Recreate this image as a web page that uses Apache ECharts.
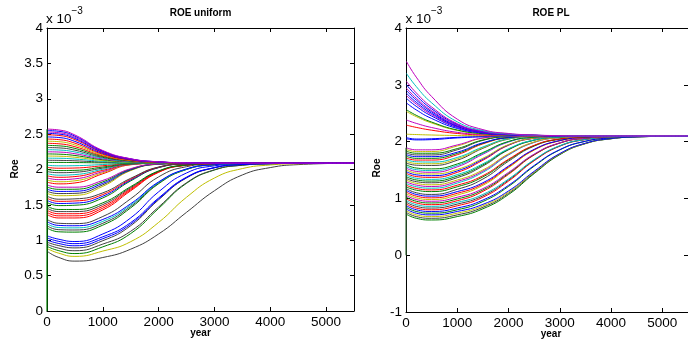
<!DOCTYPE html>
<html><head><meta charset="utf-8">
<script src="https://cdn.jsdelivr.net/npm/echarts@6/dist/echarts.min.js"></script>
<style>html,body{margin:0;padding:0;background:#fff}#c{width:688px;height:343px}</style>
</head><body><div id="c"></div><script>
// sample years (x values) shared by every curve
const YEARS = [10, 200, 500, 1000, 1500, 2000, 2500, 3000, 3500, 4000, 4500, 5500];
const X_TICKS = [0, 1000, 2000, 3000, 4000, 5000];
const UNI_Y_TICKS = [0, 0.5, 1, 1.5, 2, 2.5, 3, 3.5, 4];
const PL_Y_TICKS = [-1, 0, 1, 2, 3, 4];
// value (x 10^-3) at year 0 before the jump
const JUMP_LOW = 0;

// ---- ROE uniform : curves starting above the equilibrium ----
const UNI_HIGH = [
  [2.10, 2.10, 2.098, 2.094, 2.091, 2.09, 2.09, 2.09, 2.09, 2.09, 2.09, 2.09],
  [2.13, 2.129, 2.123, 2.105, 2.095, 2.092, 2.09, 2.09, 2.09, 2.09, 2.09, 2.09],
  [2.16, 2.159, 2.148, 2.116, 2.099, 2.093, 2.091, 2.09, 2.09, 2.09, 2.09, 2.09],
  [2.19, 2.188, 2.173, 2.127, 2.103, 2.094, 2.091, 2.09, 2.09, 2.09, 2.09, 2.09],
  [2.22, 2.217, 2.198, 2.138, 2.107, 2.095, 2.091, 2.09, 2.09, 2.09, 2.09, 2.09],
  [2.25, 2.247, 2.223, 2.149, 2.111, 2.096, 2.092, 2.09, 2.09, 2.09, 2.09, 2.09],
  [2.28, 2.276, 2.248, 2.16, 2.115, 2.098, 2.092, 2.09, 2.09, 2.09, 2.09, 2.09],
  [2.31, 2.306, 2.273, 2.171, 2.119, 2.099, 2.092, 2.09, 2.09, 2.09, 2.09, 2.09],
  [2.34, 2.335, 2.298, 2.183, 2.123, 2.10, 2.093, 2.09, 2.09, 2.09, 2.09, 2.09],
  [2.37, 2.364, 2.322, 2.194, 2.126, 2.101, 2.093, 2.09, 2.09, 2.09, 2.09, 2.09],
  [2.40, 2.394, 2.347, 2.205, 2.13, 2.102, 2.093, 2.09, 2.09, 2.09, 2.09, 2.09],
  [2.43, 2.423, 2.372, 2.216, 2.134, 2.104, 2.093, 2.09, 2.09, 2.09, 2.09, 2.09],
  [2.46, 2.453, 2.397, 2.227, 2.138, 2.105, 2.094, 2.09, 2.09, 2.09, 2.09, 2.09],
  [2.49, 2.482, 2.422, 2.238, 2.142, 2.106, 2.094, 2.09, 2.09, 2.09, 2.09, 2.09],
  [2.51, 2.502, 2.439, 2.245, 2.145, 2.107, 2.094, 2.09, 2.09, 2.09, 2.09, 2.09],
  [2.53, 2.521, 2.455, 2.253, 2.147, 2.108, 2.094, 2.09, 2.09, 2.09, 2.09, 2.09],
  [2.55, 2.541, 2.472, 2.26, 2.15, 2.108, 2.095, 2.09, 2.09, 2.09, 2.09, 2.09],
  [2.57, 2.56, 2.488, 2.268, 2.152, 2.109, 2.095, 2.09, 2.09, 2.09, 2.09, 2.09]
];
// ---- ROE uniform : curves starting below the equilibrium ----
const UNI_LOW = [
  [0.84, 0.76, 0.705, 0.756, 0.874, 1.089, 1.395, 1.70, 1.923, 2.027, 2.069, 2.09],
  [0.88, 0.82, 0.772, 0.847, 0.98, 1.252, 1.608, 1.88, 2.013, 2.064, 2.081, 2.09],
  [0.91, 0.855, 0.812, 0.907, 1.095, 1.45, 1.805, 1.993, 2.061, 2.081, 2.087, 2.09],
  [0.94, 0.89, 0.852, 0.946, 1.127, 1.47, 1.813, 1.996, 2.061, 2.081, 2.087, 2.09],
  [0.97, 0.926, 0.892, 0.994, 1.206, 1.572, 1.881, 2.024, 2.071, 2.084, 2.089, 2.09],
  [1.00, 0.956, 0.922, 1.022, 1.228, 1.585, 1.886, 2.026, 2.071, 2.084, 2.089, 2.09],
  [1.03, 0.986, 0.952, 1.049, 1.25, 1.598, 1.892, 2.027, 2.072, 2.084, 2.089, 2.09],
  [1.06, 1.016, 0.982, 1.089, 1.316, 1.685, 1.951, 2.052, 2.08, 2.088, 2.09, 2.09],
  [1.17, 1.12, 1.115, 1.214, 1.458, 1.799, 2.0, 2.067, 2.085, 2.09, 2.09, 2.09],
  [1.20, 1.15, 1.145, 1.24, 1.478, 1.808, 2.003, 2.068, 2.085, 2.09, 2.09, 2.09],
  [1.23, 1.18, 1.175, 1.267, 1.497, 1.817, 2.005, 2.069, 2.085, 2.09, 2.09, 2.09],
  [1.26, 1.21, 1.205, 1.294, 1.516, 1.825, 2.008, 2.069, 2.086, 2.09, 2.09, 2.09],
  [1.29, 1.24, 1.235, 1.336, 1.587, 1.896, 2.04, 2.08, 2.089, 2.09, 2.09, 2.09],
  [1.36, 1.315, 1.315, 1.429, 1.699, 1.96, 2.06, 2.084, 2.089, 2.09, 2.09, 2.09],
  [1.39, 1.345, 1.345, 1.454, 1.714, 1.965, 2.061, 2.085, 2.09, 2.09, 2.09, 2.09],
  [1.42, 1.375, 1.375, 1.479, 1.729, 1.97, 2.062, 2.085, 2.09, 2.09, 2.09, 2.09],
  [1.45, 1.405, 1.405, 1.504, 1.744, 1.975, 2.063, 2.085, 2.09, 2.09, 2.09, 2.09],
  [1.48, 1.435, 1.435, 1.529, 1.758, 1.98, 2.064, 2.085, 2.09, 2.09, 2.09, 2.09],
  [1.53, 1.49, 1.495, 1.598, 1.839, 2.026, 2.078, 2.088, 2.09, 2.09, 2.09, 2.09],
  [1.56, 1.52, 1.525, 1.622, 1.851, 2.029, 2.079, 2.088, 2.09, 2.09, 2.09, 2.09],
  [1.59, 1.55, 1.555, 1.646, 1.863, 2.032, 2.08, 2.088, 2.09, 2.09, 2.09, 2.09],
  [1.62, 1.58, 1.585, 1.67, 1.876, 2.035, 2.08, 2.088, 2.09, 2.09, 2.09, 2.09],
  [1.66, 1.63, 1.634, 1.762, 1.985, 2.074, 2.088, 2.09, 2.09, 2.09, 2.09, 2.09],
  [1.69, 1.66, 1.663, 1.783, 1.992, 2.075, 2.088, 2.09, 2.09, 2.09, 2.09, 2.09],
  [1.72, 1.69, 1.692, 1.804, 1.999, 2.076, 2.088, 2.09, 2.09, 2.09, 2.09, 2.09],
  [1.75, 1.72, 1.721, 1.825, 2.005, 2.077, 2.088, 2.09, 2.09, 2.09, 2.09, 2.09],
  [1.78, 1.75, 1.75, 1.846, 2.012, 2.078, 2.089, 2.09, 2.09, 2.09, 2.09, 2.09],
  [1.82, 1.797, 1.81, 1.94, 2.067, 2.088, 2.09, 2.09, 2.09, 2.09, 2.09, 2.09],
  [1.85, 1.827, 1.84, 1.955, 2.07, 2.088, 2.09, 2.09, 2.09, 2.09, 2.09, 2.09],
  [1.88, 1.857, 1.868, 1.97, 2.072, 2.088, 2.09, 2.09, 2.09, 2.09, 2.09, 2.09],
  [1.91, 1.89, 1.90, 1.988, 2.074, 2.089, 2.09, 2.09, 2.09, 2.09, 2.09, 2.09],
  [1.94, 1.92, 1.928, 2.003, 2.077, 2.089, 2.09, 2.09, 2.09, 2.09, 2.09, 2.09],
  [1.97, 1.955, 1.961, 2.02, 2.079, 2.089, 2.09, 2.09, 2.09, 2.09, 2.09, 2.09],
  [2.00, 1.985, 1.988, 2.035, 2.082, 2.09, 2.09, 2.09, 2.09, 2.09, 2.09, 2.09],
  [2.03, 2.018, 2.021, 2.053, 2.084, 2.09, 2.09, 2.09, 2.09, 2.09, 2.09, 2.09],
  [2.06, 2.052, 2.054, 2.07, 2.087, 2.09, 2.09, 2.09, 2.09, 2.09, 2.09, 2.09]
];
// ---- ROE PL : curves starting above the equilibrium ----
const PL_HIGH = [
  [2.05, 2.03, 2.035, 2.065, 2.085, 2.095, 2.10, 2.10, 2.10, 2.10, 2.10, 2.10],
  [2.07, 2.045, 2.05, 2.075, 2.09, 2.097, 2.10, 2.10, 2.10, 2.10, 2.10, 2.10],
  [2.13, 2.124, 2.116, 2.107, 2.103, 2.101, 2.10, 2.10, 2.10, 2.10, 2.10, 2.10],
  [2.29, 2.25, 2.201, 2.143, 2.116, 2.106, 2.102, 2.101, 2.10, 2.10, 2.10, 2.10],
  [2.38, 2.321, 2.248, 2.163, 2.124, 2.109, 2.103, 2.101, 2.10, 2.10, 2.10, 2.10],
  [2.53, 2.44, 2.328, 2.197, 2.137, 2.114, 2.105, 2.102, 2.10, 2.10, 2.10, 2.10],
  [2.56, 2.463, 2.344, 2.204, 2.139, 2.115, 2.106, 2.102, 2.10, 2.10, 2.10, 2.10],
  [2.68, 2.558, 2.407, 2.231, 2.149, 2.119, 2.107, 2.102, 2.10, 2.10, 2.10, 2.10],
  [2.76, 2.621, 2.45, 2.249, 2.156, 2.122, 2.108, 2.103, 2.10, 2.10, 2.10, 2.10],
  [2.81, 2.661, 2.476, 2.26, 2.16, 2.123, 2.109, 2.103, 2.10, 2.10, 2.10, 2.10],
  [2.85, 2.693, 2.498, 2.269, 2.164, 2.125, 2.109, 2.103, 2.10, 2.10, 2.10, 2.10],
  [2.90, 2.732, 2.524, 2.28, 2.168, 2.126, 2.11, 2.103, 2.10, 2.10, 2.10, 2.10],
  [2.94, 2.764, 2.545, 2.289, 2.171, 2.128, 2.11, 2.103, 2.10, 2.10, 2.10, 2.10],
  [3.00, 2.811, 2.577, 2.303, 2.177, 2.13, 2.111, 2.104, 2.10, 2.10, 2.10, 2.10],
  [3.06, 2.858, 2.609, 2.316, 2.182, 2.132, 2.112, 2.104, 2.10, 2.10, 2.10, 2.10],
  [3.20, 2.969, 2.683, 2.348, 2.194, 2.136, 2.113, 2.104, 2.10, 2.10, 2.10, 2.10],
  [3.41, 3.135, 2.794, 2.395, 2.211, 2.143, 2.116, 2.105, 2.10, 2.10, 2.10, 2.10]
];
// ---- ROE PL : curves starting below the equilibrium ----
const PL_LOW = [
  [0.72, 0.65, 0.62, 0.68, 0.817, 1.068, 1.437, 1.77, 1.964, 2.05, 2.082, 2.10],
  [0.75, 0.68, 0.65, 0.71, 0.843, 1.089, 1.45, 1.777, 1.967, 2.051, 2.083, 2.10],
  [0.78, 0.71, 0.68, 0.74, 0.869, 1.11, 1.464, 1.783, 1.969, 2.052, 2.083, 2.10],
  [0.81, 0.74, 0.71, 0.77, 0.895, 1.131, 1.477, 1.79, 1.972, 2.053, 2.083, 2.10],
  [0.84, 0.77, 0.74, 0.80, 0.945, 1.211, 1.567, 1.854, 2.005, 2.066, 2.089, 2.10],
  [0.87, 0.80, 0.77, 0.83, 0.971, 1.23, 1.579, 1.859, 2.007, 2.067, 2.089, 2.10],
  [0.90, 0.83, 0.80, 0.87, 1.02, 1.304, 1.663, 1.919, 2.036, 2.079, 2.094, 2.10],
  [0.93, 0.86, 0.83, 0.90, 1.045, 1.323, 1.673, 1.924, 2.038, 2.08, 2.094, 2.10],
  [0.96, 0.89, 0.86, 0.93, 1.07, 1.341, 1.683, 1.928, 2.039, 2.08, 2.094, 2.10],
  [0.99, 0.92, 0.89, 0.96, 1.124, 1.424, 1.764, 1.973, 2.059, 2.087, 2.096, 2.10],
  [1.02, 0.95, 0.92, 0.99, 1.148, 1.44, 1.772, 1.976, 2.06, 2.087, 2.096, 2.10],
  [1.05, 0.98, 0.95, 1.02, 1.172, 1.457, 1.78, 1.979, 2.061, 2.087, 2.097, 2.10],
  [1.08, 1.01, 0.98, 1.06, 1.23, 1.54, 1.85, 2.015, 2.074, 2.092, 2.098, 2.10],
  [1.11, 1.04, 1.01, 1.09, 1.253, 1.555, 1.857, 2.017, 2.075, 2.092, 2.098, 2.10],
  [1.14, 1.07, 1.04, 1.12, 1.276, 1.57, 1.864, 2.019, 2.076, 2.093, 2.098, 2.10],
  [1.17, 1.10, 1.07, 1.16, 1.341, 1.655, 1.921, 2.043, 2.084, 2.095, 2.099, 2.10],
  [1.20, 1.145, 1.12, 1.205, 1.378, 1.677, 1.929, 2.046, 2.084, 2.095, 2.099, 2.10],
  [1.23, 1.175, 1.15, 1.233, 1.40, 1.69, 1.935, 2.048, 2.085, 2.095, 2.099, 2.10],
  [1.26, 1.205, 1.18, 1.27, 1.459, 1.764, 1.985, 2.069, 2.092, 2.098, 2.10, 2.10],
  [1.29, 1.235, 1.21, 1.297, 1.48, 1.775, 1.989, 2.07, 2.092, 2.098, 2.10, 2.10],
  [1.32, 1.265, 1.24, 1.324, 1.501, 1.786, 1.993, 2.071, 2.092, 2.098, 2.10, 2.10],
  [1.35, 1.295, 1.275, 1.365, 1.57, 1.856, 2.024, 2.081, 2.096, 2.099, 2.10, 2.10],
  [1.38, 1.325, 1.305, 1.392, 1.59, 1.865, 2.027, 2.082, 2.096, 2.099, 2.10, 2.10],
  [1.41, 1.355, 1.335, 1.419, 1.609, 1.874, 2.03, 2.082, 2.096, 2.099, 2.10, 2.10],
  [1.44, 1.385, 1.37, 1.458, 1.672, 1.935, 2.058, 2.091, 2.099, 2.10, 2.10, 2.10],
  [1.47, 1.415, 1.40, 1.484, 1.69, 1.942, 2.06, 2.092, 2.099, 2.10, 2.10, 2.10],
  [1.50, 1.445, 1.43, 1.51, 1.707, 1.948, 2.061, 2.092, 2.099, 2.10, 2.10, 2.10],
  [1.53, 1.475, 1.46, 1.556, 1.778, 1.993, 2.075, 2.095, 2.10, 2.10, 2.10, 2.10],
  [1.56, 1.505, 1.49, 1.581, 1.793, 1.998, 2.076, 2.096, 2.10, 2.10, 2.10, 2.10],
  [1.59, 1.535, 1.52, 1.606, 1.808, 2.003, 2.078, 2.096, 2.10, 2.10, 2.10, 2.10],
  [1.62, 1.585, 1.58, 1.672, 1.882, 2.044, 2.09, 2.098, 2.10, 2.10, 2.10, 2.10],
  [1.65, 1.615, 1.61, 1.697, 1.894, 2.048, 2.09, 2.098, 2.10, 2.10, 2.10, 2.10],
  [1.68, 1.645, 1.64, 1.721, 1.906, 2.051, 2.091, 2.098, 2.10, 2.10, 2.10, 2.10],
  [1.71, 1.675, 1.675, 1.769, 1.96, 2.069, 2.095, 2.10, 2.10, 2.10, 2.10, 2.10],
  [1.74, 1.705, 1.705, 1.792, 1.97, 2.071, 2.095, 2.10, 2.10, 2.10, 2.10, 2.10],
  [1.77, 1.735, 1.735, 1.814, 1.98, 2.073, 2.096, 2.10, 2.10, 2.10, 2.10, 2.10],
  [1.80, 1.765, 1.765, 1.856, 2.022, 2.088, 2.099, 2.10, 2.10, 2.10, 2.10, 2.10],
  [1.83, 1.795, 1.795, 1.877, 2.029, 2.089, 2.10, 2.10, 2.10, 2.10, 2.10, 2.10],
  [1.86, 1.825, 1.825, 1.923, 2.06, 2.095, 2.10, 2.10, 2.10, 2.10, 2.10, 2.10],
  [1.89, 1.855, 1.855, 1.941, 2.064, 2.096, 2.10, 2.10, 2.10, 2.10, 2.10, 2.10]
];

// ---- styles (kept apart from the data) ----
const PALETTE = { b: '#0000ff', g: '#008000', r: '#ff0000', c: '#00bfbf', m: '#bf00bf', y: '#bfbf00', k: '#404040' };
const UNI_HIGH_COLORS = 'gkcygmckgryrbrbmbm';
const UNI_LOW_COLORS = 'kygkkbbbgkcbkrrrkggbrkykbgmrymrckgrc';
const PL_HIGH_COLORS = 'bbyrmygbbmbbmbmcm';
const PL_LOW_COLORS = 'gkybgbrkcrgmyrbkgrcmykgcrbymcgkycrgbkgym';
const FONT = '"Liberation Sans", Arial, Helvetica, sans-serif';

const chart = echarts.init(document.getElementById('c'), null, { renderer: 'canvas' });

function curves(lines, colors, axisIdx) {
  return lines.map((vals, i) => ({
    type: 'line', xAxisIndex: axisIdx, yAxisIndex: axisIdx,
    data: vals.map((v, j) => [YEARS[j], v]),
    showSymbol: false, symbol: 'none', smooth: 0.5,
    lineStyle: { width: 1, color: PALETTE[colors[i % colors.length]] },
    silent: true, animation: false
  }));
}
function jump(lines, axisIdx, color) {
  const top = Math.max(...lines.map(l => l[0]));
  return { type: 'line', xAxisIndex: axisIdx, yAxisIndex: axisIdx,
    data: [[0, JUMP_LOW], [0, top]], showSymbol: false, symbol: 'none',
    lineStyle: { width: 1.2, color }, silent: true, animation: false, z: 5 };
}
function xAx(grid, pos, labels) {
  return { type: 'value', gridIndex: grid, position: pos, min: 0, max: 5500, interval: 1000,
    axisLine: { show: true, onZero: false, lineStyle: { color: '#000', width: 1 } },
    axisTick: { show: true, inside: true, length: 4, lineStyle: { color: '#000' } },
    axisLabel: { show: labels, color: '#000', fontSize: 13.5, fontFamily: FONT, margin: 4,
      showMaxLabel: false, formatter: v => X_TICKS.includes(v) ? String(v) : '' },
    splitLine: { show: false } };
}
function yAx(grid, pos, labels, ticks) {
  return { type: 'value', gridIndex: grid, position: pos,
    min: ticks[0], max: ticks[ticks.length - 1], interval: ticks[1] - ticks[0],
    axisLine: { show: true, onZero: false, lineStyle: { color: '#000', width: 1 } },
    axisTick: { show: true, inside: true, length: 4, lineStyle: { color: '#000' } },
    axisLabel: { show: labels, color: '#000', fontSize: 13.5, fontFamily: FONT, margin: 4,
      formatter: v => String(v) },
    splitLine: { show: false } };
}
function txt(x, y, text, font, align, rot) {
  return { type: 'text', x, y, rotation: rot || 0, silent: true, z: 100,
    style: { text, font, fill: '#000', align: align || 'center', verticalAlign: 'middle' } };
}

const option = {
  backgroundColor: '#fff',
  animation: false,
  grid: [
    { left: 47, right: 334, top: 28, bottom: 32 },
    { left: 406, right: -8, top: 28, bottom: 31 }
  ],
  xAxis: [xAx(0, 'bottom', true), xAx(0, 'top', false), xAx(1, 'bottom', true), xAx(1, 'top', false)],
  yAxis: [yAx(0, 'left', true, UNI_Y_TICKS), yAx(0, 'right', false, UNI_Y_TICKS),
          yAx(1, 'left', true, PL_Y_TICKS), yAx(1, 'right', false, PL_Y_TICKS)],
  series: [].concat(
    curves(UNI_LOW, UNI_LOW_COLORS, 0), curves(UNI_HIGH, UNI_HIGH_COLORS, 0), [jump(UNI_HIGH, 0, '#008000')],
    curves(PL_LOW, PL_LOW_COLORS, 2), curves(PL_HIGH, PL_HIGH_COLORS, 2), [jump(PL_LOW, 2, '#3c6e3c')]
  ),
  graphic: [
    txt(200.5, 13, 'ROE uniform', 'bold 10px ' + FONT),
    txt(551, 13, 'ROE PL', 'bold 10px ' + FONT),
    txt(200.5, 333, 'year', 'bold 10px ' + FONT),
    txt(551, 334.5, 'year', 'bold 10px ' + FONT),
    txt(15, 169, 'Roe', 'bold 10px ' + FONT, 'center', Math.PI / 2),
    txt(377, 168, 'Roe', 'bold 10px ' + FONT, 'center', Math.PI / 2),
    txt(46, 19.5, 'x 10', '13.5px ' + FONT, 'left'),
    txt(71.5, 11.5, '\u22123', '10px ' + FONT, 'left'),
    txt(405.5, 19.5, 'x 10', '13.5px ' + FONT, 'left'),
    txt(431, 11.5, '\u22123', '10px ' + FONT, 'left')
  ]
};
chart.setOption(option);
</script></body></html>
